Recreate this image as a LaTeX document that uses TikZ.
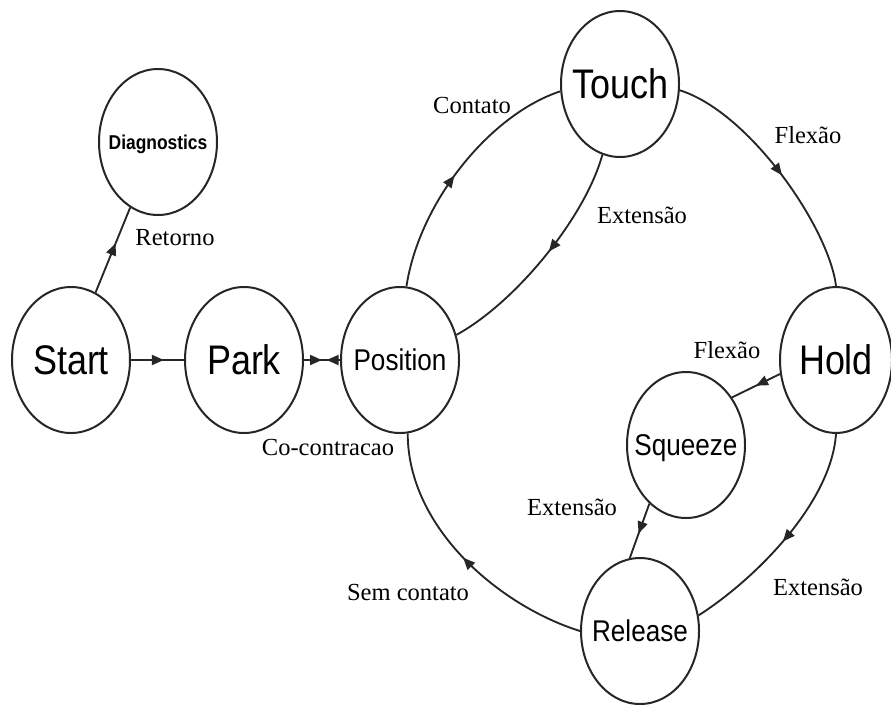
\documentclass[tikz,border=0pt]{standalone}
\usepackage{fontspec}
\setmainfont{Liberation Serif}
\newfontfamily\statefont[FakeStretch=0.87]{Liberation Sans}
\usetikzlibrary{shapes.geometric, arrows.meta, decorations.markings}

\tikzset{
  tri/.tip={Triangle[length=9pt,width=7.5pt]},
  state/.style={ellipse, draw=black!85, line width=1.5pt, fill=white,
    minimum width=88.5pt, minimum height=109.5pt, inner sep=0pt, text depth=0pt},
  bigtxt/.style={font=\statefont\fontsize{31}{31}\selectfont},
  midtxt/.style={font=\statefont\fontsize{22.5}{22.5}\selectfont},
  smalltxt/.style={font=\statefont\bfseries\fontsize{15}{15}\selectfont},
  lbl/.style={font=\fontsize{18.4}{18.4}\selectfont, inner sep=0pt},
  edge/.style={draw=black!85, line width=1.4pt},
  tipmark/.style={postaction={decorate},
    decoration={markings, mark=at position #1 with {\arrow{tri}}}},
}

\begin{document}
\begin{tikzpicture}[x=0.75pt, y=-0.75pt]
\useasboundingbox (0,0) rectangle (891,704);

% states
\node[state, smalltxt] (diag)     at (158,142) {\makebox[0pt]{Diagnostics}};
\node[state, bigtxt]   (start)    at (71,360)  {\makebox[0pt]{Start}};
\node[state, bigtxt]   (park)     at (244,360) {\makebox[0pt]{Park}};
\node[state, midtxt]   (position) at (400,360) {\makebox[0pt]{Position}};
\node[state, bigtxt]   (touch)    at (620,84)  {\makebox[0pt]{Touch}};
\node[state, bigtxt, minimum width=84pt] (hold) at (836,360) {\makebox[0pt]{Hold}};
\node[state, midtxt]   (squeeze)  at (686,445) {\makebox[0pt]{Squeeze}};
\node[state, midtxt]   (release)  at (640,631) {\makebox[0pt]{Release}};

% transitions
\draw[edge, tipmark=0.58] (start.70) -- (diag.247);
\draw[edge, tipmark=0.62] (start.east) -- (park.west);
\draw[edge, postaction={decorate},
  decoration={markings,
    mark=at position 0.5 with {\arrow{tri}},
    mark=at position 0.63 with {\arrowreversed{tri}}}]
  (park.east) -- (position.west);
\draw[edge, tipmark=0.47] (position.85) .. controls +(13,-85) and +(-70,23) .. (touch.187);
\draw[edge, tipmark=0.47] (touch.256) .. controls +(-17,62) and +(60,-33) .. (position.24);
\draw[edge, tipmark=0.52] (touch.354) .. controls +(70,22) and +(-7,-58) .. (hold.90);
\draw[edge, tipmark=0.5] (hold.194) -- (squeeze.46);
\draw[edge, tipmark=0.55] (squeeze.238) -- (release.98);
\draw[edge, tipmark=0.52] (hold.270) .. controls +(-5,70) and +(55,-35) .. (release.15);
\draw[edge, tipmark=0.5] (release.180) .. controls +(-80,-25) and +(0,95) .. (position.276);

% transition labels
\node[lbl] (lRetorno)  at (175,238) {Retorno};
\node[lbl] (lContato)  at (472,105) {Contato};
\node[lbl] (lExtA)     at (642,215) {Extensão};
\node[lbl] (lFlexA)    at (808,135) {Flexão};
\node[lbl] (lFlexB)    at (727,350) {Flexão};
\node[lbl] (lExtB)     at (818,587) {Extensão};
\node[lbl] (lExtC)     at (572,507) {Extensão};
\node[lbl] (lSem)      at (408,592) {Sem contato};
\node[lbl] (lCo)       at (328,447) {Co-contracao};
\end{tikzpicture}
\end{document}
